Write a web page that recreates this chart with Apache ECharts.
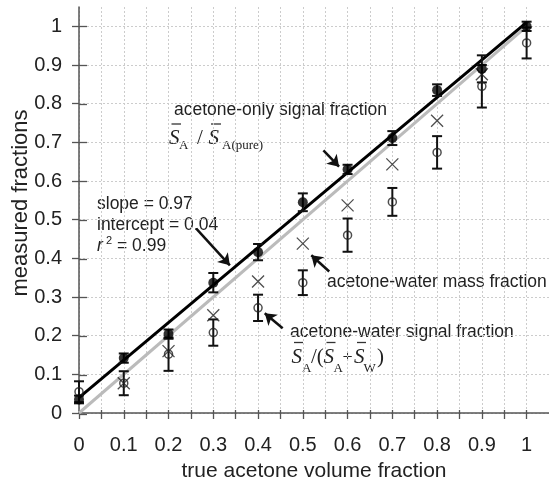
<!DOCTYPE html>
<html><head><meta charset="utf-8">
<script src="https://cdn.jsdelivr.net/npm/echarts@6/dist/echarts.min.js"></script>
<style>html,body{margin:0;padding:0;background:#fff}#c{width:549px;height:487px}</style>
</head><body><div id="c"></div><script>
// ---- data ----
const trueFractions = [0, 0.1, 0.2, 0.3, 0.4, 0.5, 0.6, 0.7, 0.8, 0.9, 1.0];
const onlyMean = [0.035, 0.142, 0.204, 0.337, 0.416, 0.545, 0.630, 0.711, 0.835, 0.890, 1.000];
const onlyErr  = [0.010, 0.012, 0.012, 0.025, 0.021, 0.023, 0.012, 0.018, 0.015, 0.035, 0.012];
const massX    = [0.1, 0.2, 0.3, 0.4, 0.5, 0.6, 0.7, 0.8, 0.9];
const massFrac = [0.077, 0.160, 0.253, 0.340, 0.438, 0.537, 0.643, 0.756, 0.876];
const signalMean = [0.055, 0.077, 0.152, 0.208, 0.272, 0.337, 0.460, 0.546, 0.674, 0.845, 0.957];
const signalErr  = [0.027, 0.031, 0.043, 0.034, 0.034, 0.032, 0.043, 0.036, 0.042, 0.055, 0.040];
const fitLine = [[0, 0.04], [1, 1.01]];
const identityLine = [[0, 0], [1, 1]];
const xTickLabels = [0, 0.1, 0.2, 0.3, 0.4, 0.5, 0.6, 0.7, 0.8, 0.9, 1];
const xTicks = [0, 0.05, 0.1, 0.15, 0.2, 0.25, 0.3, 0.35, 0.4, 0.45, 0.5, 0.55, 0.6, 0.65, 0.7, 0.75, 0.8, 0.85, 0.9, 0.95, 1];
const yTickLabels = [0, 0.1, 0.2, 0.3, 0.4, 0.5, 0.6, 0.7, 0.8, 0.9, 1];
const arrowSegments = [
  [[0.546, 0.679], [0.581, 0.637]],
  [[0.262, 0.477], [0.337, 0.382]],
  [[0.559, 0.366], [0.519, 0.408]],
  [[0.455, 0.219], [0.415, 0.258]]
];

const SANS = '"Liberation Sans", Arial, sans-serif';
const SERIF = '"Liberation Serif", "Times New Roman", serif';
const chart = echarts.init(document.getElementById('c'), null, {renderer: 'canvas'});

function errItem(params, api) {
  const x = api.value(0), lo = api.value(1), hi = api.value(2);
  const a = api.coord([x, hi]), b = api.coord([x, lo]);
  const st = {stroke: '#111', lineWidth: 2};
  return {type: 'group', children: [
    {type: 'line', shape: {x1: a[0], y1: a[1], x2: b[0], y2: b[1]}, style: st},
    {type: 'line', shape: {x1: a[0] - 5, y1: a[1], x2: a[0] + 5, y2: a[1]}, style: st},
    {type: 'line', shape: {x1: b[0] - 5, y1: b[1], x2: b[0] + 5, y2: b[1]}, style: st}
  ]};
}

function txt(t, x, y, font, extra) {
  return Object.assign({type: 'text', x: x, y: y, silent: true,
    style: {text: t, font: font, fill: '#222', textVerticalAlign: 'middle', verticalAlign: 'middle', textAlign: 'left', align: 'left'}}, extra || {});
}
function oline(x1, x2, y) {
  return {type: 'line', silent: true, shape: {x1: x1, y1: y, x2: x2, y2: y}, style: {stroke: '#333', lineWidth: 1.3}};
}
const fS = 'italic 21px ' + SERIF, fR = '21px ' + SERIF, fSub = '13px ' + SERIF, fA = '17.5px ' + SANS;

const graphics = [
  txt('measured fractions', 21, 203, '22px ' + SANS, {rotation: Math.PI / 2, style: {text: 'measured fractions', font: '22px ' + SANS, fill: '#222', textAlign: 'center', align: 'center', textVerticalAlign: 'middle', verticalAlign: 'middle'}}),
  txt('acetone-only signal fraction', 174, 110, fA),
  txt('S', 169, 138, fS), oline(171.5, 181, 124), txt('A', 179, 146, fSub),
  txt('/', 197, 138, fR),
  txt('S', 208.5, 138, fS), oline(211, 221, 124), txt('A(pure)', 222, 146, fSub),
  txt('slope = 0.97', 97, 204, fA),
  txt('intercept = 0.04', 97, 225, fA),
  txt('r', 97, 246, 'italic 17.5px ' + SANS), txt('2', 106, 241, '11px ' + SANS), txt('= 0.99', 117, 246, fA),
  txt('acetone-water mass fraction', 327, 282, fA),
  txt('acetone-water signal fraction', 290, 332, fA),
  txt('S', 291.5, 357.5, fS), oline(294, 303, 342.5), txt('A', 302, 369, fSub),
  txt('/(', 311, 357.5, fR),
  txt('S', 323.5, 357.5, fS), oline(326.5, 335.5, 342.5), txt('A', 333.5, 369, fSub),
  txt('+', 342.5, 358, '18px ' + SERIF),
  txt('S', 354, 357.5, fS), oline(357, 366, 342.5), txt('W', 363.5, 369, fSub),
  txt(')', 377, 357.5, fR)
];

const gridPos = {left: 79, right: -3, top: 7, bottom: 73};
const option = {
  animation: false,
  backgroundColor: '#fff',
  grid: [Object.assign({}, gridPos), Object.assign({}, gridPos)],
  xAxis: [{
    type: 'value', gridIndex: 0, min: 0, max: 1.05, interval: 0.05,
    name: 'true acetone volume fraction', nameLocation: 'middle', nameGap: 48,
    nameTextStyle: {fontSize: 21, color: '#222', fontFamily: SANS},
    axisLine: {show: true, lineStyle: {color: '#555', width: 1.5}},
    axisTick: {show: true, customValues: xTicks, length: 6, inside: false, lineStyle: {color: '#555', width: 1.3}},
    axisLabel: {show: true, customValues: xTickLabels, margin: 22, fontSize: 20, color: '#222', fontFamily: SANS},
    splitLine: {show: true, lineStyle: {color: '#ccc', type: [2, 2], width: 1}}
  }, {
    type: 'value', gridIndex: 1, min: 0, max: 1.05, interval: 0.05,
    axisLine: {show: false},
    axisTick: {show: true, customValues: xTicks, length: 4, inside: true, lineStyle: {color: '#555', width: 1.3}},
    axisLabel: {show: false}, splitLine: {show: false}
  }],
  yAxis: [{
    type: 'value', gridIndex: 0, min: 0, max: 1.05, interval: 0.05,
    axisLine: {show: true, lineStyle: {color: '#555', width: 1.5}},
    axisTick: {show: true, customValues: yTickLabels, length: 7, inside: false, lineStyle: {color: '#555', width: 1.3}},
    axisLabel: {show: true, customValues: yTickLabels, margin: 17, fontSize: 20, color: '#222', fontFamily: SANS},
    splitLine: {show: true, lineStyle: {color: '#ccc', type: [2, 2], width: 1}}
  }, {
    type: 'value', gridIndex: 1, min: 0, max: 1.05, interval: 0.05,
    axisLine: {show: false},
    axisTick: {show: true, customValues: yTickLabels, length: 8, inside: true, lineStyle: {color: '#555', width: 1.3}},
    axisLabel: {show: false}, splitLine: {show: false}
  }],
  series: [
    {type: 'line', data: identityLine, symbol: 'none', silent: true, z: 2,
     lineStyle: {color: '#bbb', width: 3}},
    {type: 'line', data: fitLine, symbol: 'none', silent: true, z: 3,
     lineStyle: {color: '#000', width: 3},
     markLine: {silent: true, symbol: ['none', 'arrow'], symbolSize: 11, label: {show: false},
       lineStyle: {color: '#111', width: 2.5, type: 'solid'},
       data: arrowSegments.map(s => [{coord: s[0]}, {coord: s[1]}])}},
    {type: 'custom', renderItem: errItem, z: 5, silent: true, encode: {x: 0, y: [1, 2]},
     data: trueFractions.map((x, i) => [x, signalMean[i] - signalErr[i], signalMean[i] + signalErr[i]])},
    {type: 'custom', renderItem: errItem, z: 5, silent: true, encode: {x: 0, y: [1, 2]},
     data: trueFractions.map((x, i) => [x, onlyMean[i] - onlyErr[i], onlyMean[i] + onlyErr[i]])},
    {type: 'scatter', data: trueFractions.map((x, i) => [x, signalMean[i]]), z: 6, silent: true,
     symbol: 'circle', symbolSize: 8, itemStyle: {color: 'rgba(255,255,255,0)', borderColor: '#222', borderWidth: 1.5}},
    {type: 'scatter', data: massX.map((x, i) => [x, massFrac[i]]), z: 6, silent: true,
     symbol: 'path://M0,0L10,10M10,0L0,10', symbolSize: 12,
     itemStyle: {color: 'rgba(0,0,0,0)', borderColor: '#222', borderWidth: 1.3}},
    {type: 'scatter', data: trueFractions.map((x, i) => [x, onlyMean[i]]), z: 7, silent: true,
     symbol: 'circle', symbolSize: 10, itemStyle: {color: '#000'}}
  ],
  graphic: graphics
};
chart.setOption(option);
</script></body></html>
